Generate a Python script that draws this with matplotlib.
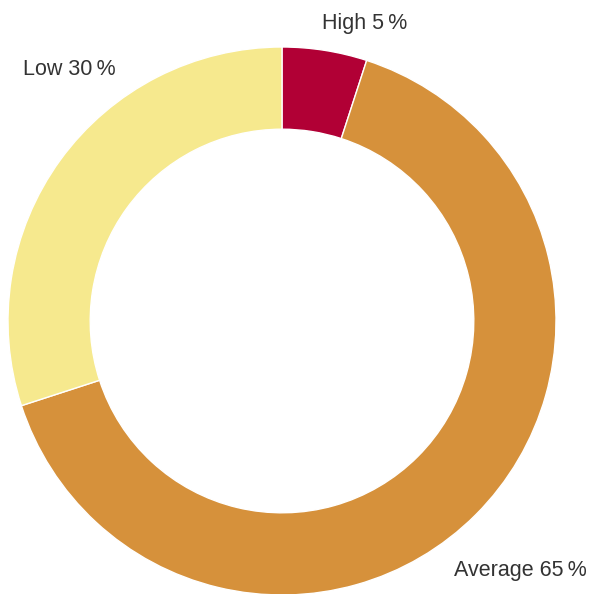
import matplotlib
matplotlib.use('Agg')
import matplotlib.pyplot as plt

# data
labels = ['High', 'Average', 'Low']
values = [5, 65, 30]
colors = ['#B10035', '#D6913B', '#F6E98E']

# label placement (data coords, radius 1 = outer edge)
label_pos = [(0.303, 1.085), (0.870, -0.912), (-0.778, 0.918)]

W, H = 591, 594
fig = plt.figure(figsize=(W / 100, H / 100), dpi=100)
ax = fig.add_axes([0, 0, 1, 1])

cx, cy, r = 282, 321, 274

ax.pie(values, colors=colors, startangle=90, counterclock=False, radius=1,
       wedgeprops=dict(width=0.3, edgecolor='white', linewidth=1))

for lab, v, (x, y) in zip(labels, values, label_pos):
    ax.text(x, y, f'{lab} {v}\u2009%', ha='center', va='center', fontsize=15.5,
            color='#333333', family=['Liberation Sans', 'DejaVu Sans'])

ax.set_xlim(-cx / r, (W - cx) / r)
ax.set_ylim(-(H - cy) / r, cy / r)
ax.set_aspect('equal')
ax.axis('off')

fig.savefig('out.png', dpi=100)
